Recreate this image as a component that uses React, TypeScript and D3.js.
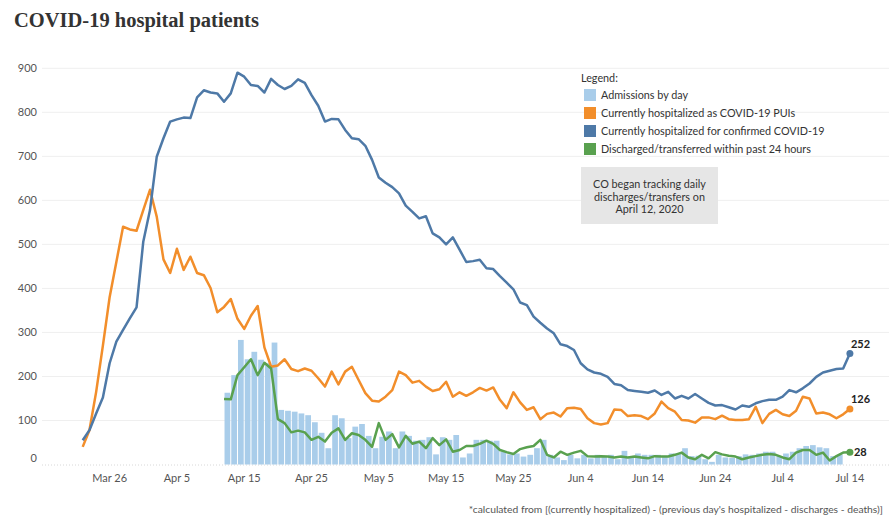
import * as d3 from "d3";

// daily values
const startDate = "2020-03-22"; // first day of hospitalized series
const trackStart = "2020-04-12"; // first day of discharge tracking / admissions

const confirmed = [
  55, 78, 116, 152, 230, 279, 306, 332, 357, 506,
  578, 699, 741, 779, 784, 788, 787, 834, 850, 845,
  843, 824, 843, 890, 881, 862, 860, 845, 876, 862,
  853, 860, 875, 867, 839, 815, 779, 785, 784, 760,
  741, 739, 724, 692, 652, 640, 630, 616, 588, 574,
  559, 564, 525, 516, 500, 516, 488, 460, 462, 465,
  446, 444, 428, 413, 398, 368, 362, 336, 322, 309,
  298, 273, 269, 260, 230, 216, 209, 206, 199, 183,
  180, 169, 167, 165, 163, 168, 158, 165, 150, 156,
  150, 160, 150, 140, 134, 135, 130, 125, 134, 131,
  139, 144, 147, 147, 154, 169, 164, 173, 184, 199,
  209, 213, 217, 218, 252,
];

const pui = [
  40, 78, 165, 270, 380, 460, 540, 534, 531, 578,
  624, 563, 466, 435, 490, 442, 472, 435, 430, 401,
  346, 358, 376, 331, 308, 338, 360, 266, 222, 225,
  239, 217, 212, 218, 213, 196, 177, 211, 182, 211,
  222, 192, 162, 145, 143, 154, 169, 211, 203, 186,
  190, 177, 167, 171, 188, 154, 164, 156, 164, 174,
  168, 175, 147, 128, 164, 141, 124, 130, 103, 115,
  118, 109, 128, 129, 126, 105, 94, 91, 94, 125,
  124, 110, 112, 110, 103, 116, 143, 128, 120, 101,
  100, 95, 107, 107, 103, 111, 103, 101, 101, 103,
  131, 94, 115, 124, 114, 110, 122, 154, 150, 116,
  118, 114, 105, 114, 126,
];

const discharged = [
  149, 148, 203, 221, 239, 203, 231, 218, 103, 94,
  73, 77, 73, 56, 63, 52, 72, 82, 56, 71,
  67, 56, 40, 94, 56, 69, 39, 65, 47, 52,
  37, 60, 44, 57, 29, 33, 42, 42, 47, 54,
  47, 33, 28, 24, 35, 39, 42, 56, 22, 16,
  29, 22, 27, 31, 19, 18, 19, 18, 16, 18,
  16, 18, 16, 14, 19, 18, 18, 22, 27, 16,
  12, 22, 14, 28, 23, 20, 18, 12, 16, 19,
  22, 24, 22, 16, 12, 27, 33, 33, 22, 27,
  9, 19, 27, 28,
];

const admissions = [
  163, 203, 283, 239, 256, 238, 230, 277, 124, 122,
  120, 116, 112, 96, 72, 37, 112, 105, 60, 86,
  92, 65, 37, 63, 75, 37, 75, 65, 54, 56,
  62, 23, 62, 56, 67, 16, 25, 56, 56, 54,
  54, 29, 23, 25, 18, 22, 37, 56, 22, 16,
  10, 22, 14, 22, 14, 22, 18, 22, 12, 31,
  19, 25, 22, 22, 22, 20, 25, 26, 37, 19,
  20, 12, 6, 22, 16, 15, 19, 23, 22, 25,
  29, 29, 19, 25, 29, 37, 42, 44, 39, 37,
  19, 22,
];

const yTicks = [0, 100, 200, 300, 400, 500, 600, 700, 800, 900];
const xTickLabels = [
  "Mar 26", "Apr 5", "Apr 15", "Apr 25", "May 5", "May 15",
  "May 25", "Jun 4", "Jun 14", "Jun 24", "Jul 4", "Jul 14",
];

const legendLabels = [
  "Admissions by day",
  "Currently hospitalized as COVID-19 PUIs",
  "Currently hospitalized for confirmed COVID-19",
  "Discharged/transferred within past 24 hours",
];
const noteLines = ["CO began tracking daily", "discharges/transfers on", "April 12, 2020"];

const C_BAR = "#a9cdea";
const C_PUI = "#f28e2b";
const C_CONF = "#4e79a7";
const C_DIS = "#59a14f";
const legendColors = [C_BAR, C_PUI, C_CONF, C_DIS];

const FONT = "Lato, 'Open Sans', sans-serif";

export default function App() {
  const W = 889;
  const H = 521;

  const parse = d3.utcParse("%Y-%m-%d");
  const day0 = parse(startDate)!;
  const dayT = parse(trackStart)!;
  const dates = confirmed.map((_, i) => d3.utcDay.offset(day0, i));
  const trackDates = discharged.map((_, i) => d3.utcDay.offset(dayT, i));
  const last = dates[dates.length - 1];

  const x = d3.scaleUtc().domain([day0, last]).range([82.7, 849.9]);
  const y = d3.scaleLinear().domain([0, 900]).range([464.5, 68.3]);
  const step = x(d3.utcDay.offset(day0, 1)) - x(day0);

  const mainLine = d3
    .line<number>()
    .x((_, i) => x(dates[i]))
    .y((d) => y(d));
  const trackLine = d3
    .line<number>()
    .x((_, i) => x(trackDates[i]))
    .y((d) => y(d));

  const parseTick = d3.utcParse("%b %d %Y");

  const endLabels = [
    { v: confirmed[confirmed.length - 1], c: C_CONF, dx: 1, dy: -6 },
    { v: pui[pui.length - 1], c: C_PUI, dx: 1, dy: -6 },
    { v: discharged[discharged.length - 1], c: C_DIS, dx: 4, dy: 4 },
  ];

  return (
    <svg
      width={W}
      height={H}
      style={{ position: "absolute", left: 0, top: 0, background: "#fff" }}
      fontFamily={FONT}
    >
      <text
        x={14}
        y={27}
        fontFamily="'Liberation Serif', 'Times New Roman', serif"
        fontWeight="bold"
        fontSize={20.5}
        fill="#333"
      >
        COVID-19 hospital patients
      </text>

      {/* grid */}
      {yTicks.slice(1).map((t) => (
        <line key={t} x1={42} x2={889} y1={y(t)} y2={y(t)} stroke="#efefef" strokeWidth={1} />
      ))}
      <line x1={42} x2={889} y1={y(0) + 0.5} y2={y(0) + 0.5} stroke="#d8d8d8" strokeDasharray="1,2" />

      {/* y labels */}
      {yTicks.map((t) => (
        <text
          key={t}
          x={37}
          y={t === 0 ? y(t) - 3 : y(t) + 4}
          textAnchor="end"
          fontSize={11}
          fill="#555"
        >
          {t}
        </text>
      ))}

      {/* x labels */}
      {xTickLabels.map((l) => (
        <text key={l} x={x(parseTick(l + " 2020")!)} y={482} textAnchor="middle" fontSize={11} fill="#555">
          {l}
        </text>
      ))}

      {/* admissions bars */}
      {admissions.map((v, i) => (
        <rect
          key={i}
          x={x(trackDates[i]) + 0.5}
          y={y(v)}
          width={step - 1}
          height={y(0) - y(v)}
          fill={C_BAR}
        />
      ))}

      <path d={mainLine(pui)!} fill="none" stroke={C_PUI} strokeWidth={2.5} strokeLinejoin="round" />
      <path d={mainLine(confirmed)!} fill="none" stroke={C_CONF} strokeWidth={2.5} strokeLinejoin="round" />
      <path d={trackLine(discharged)!} fill="none" stroke={C_DIS} strokeWidth={2.5} strokeLinejoin="round" />

      {endLabels.map((e) => (
        <g key={e.v}>
          <circle cx={x(last)} cy={y(e.v)} r={3.5} fill={e.c} />
          <text x={x(last) + e.dx} y={y(e.v) + e.dy} fontSize={11} fontWeight="bold" fill="#222">
            {e.v}
          </text>
        </g>
      ))}

      {/* legend */}
      <text x={581} y={82} fontSize={10.8} fill="#333">
        Legend:
      </text>
      {legendLabels.map((l, i) => (
        <g key={l} transform={`translate(584,${89 + i * 18})`}>
          <rect width={12} height={12} fill={legendColors[i]} />
          <text x={17} y={10} fontSize={10.8} fill="#333">
            {l}
          </text>
        </g>
      ))}

      {/* annotation */}
      <rect x={581} y={167} width={137} height={57} fill="#e6e6e6" />
      {noteLines.map((l, i) => (
        <text key={l} x={649.5} y={188 + i * 12.5} textAnchor="middle" fontSize={10.8} fill="#333">
          {l}
        </text>
      ))}

      <text x={883} y={513} textAnchor="end" fontSize={10.3} fill="#555">
        *calculated from [(currently hospitalized) - (previous day's hospitalized - discharges - deaths)]
      </text>
    </svg>
  );
}
